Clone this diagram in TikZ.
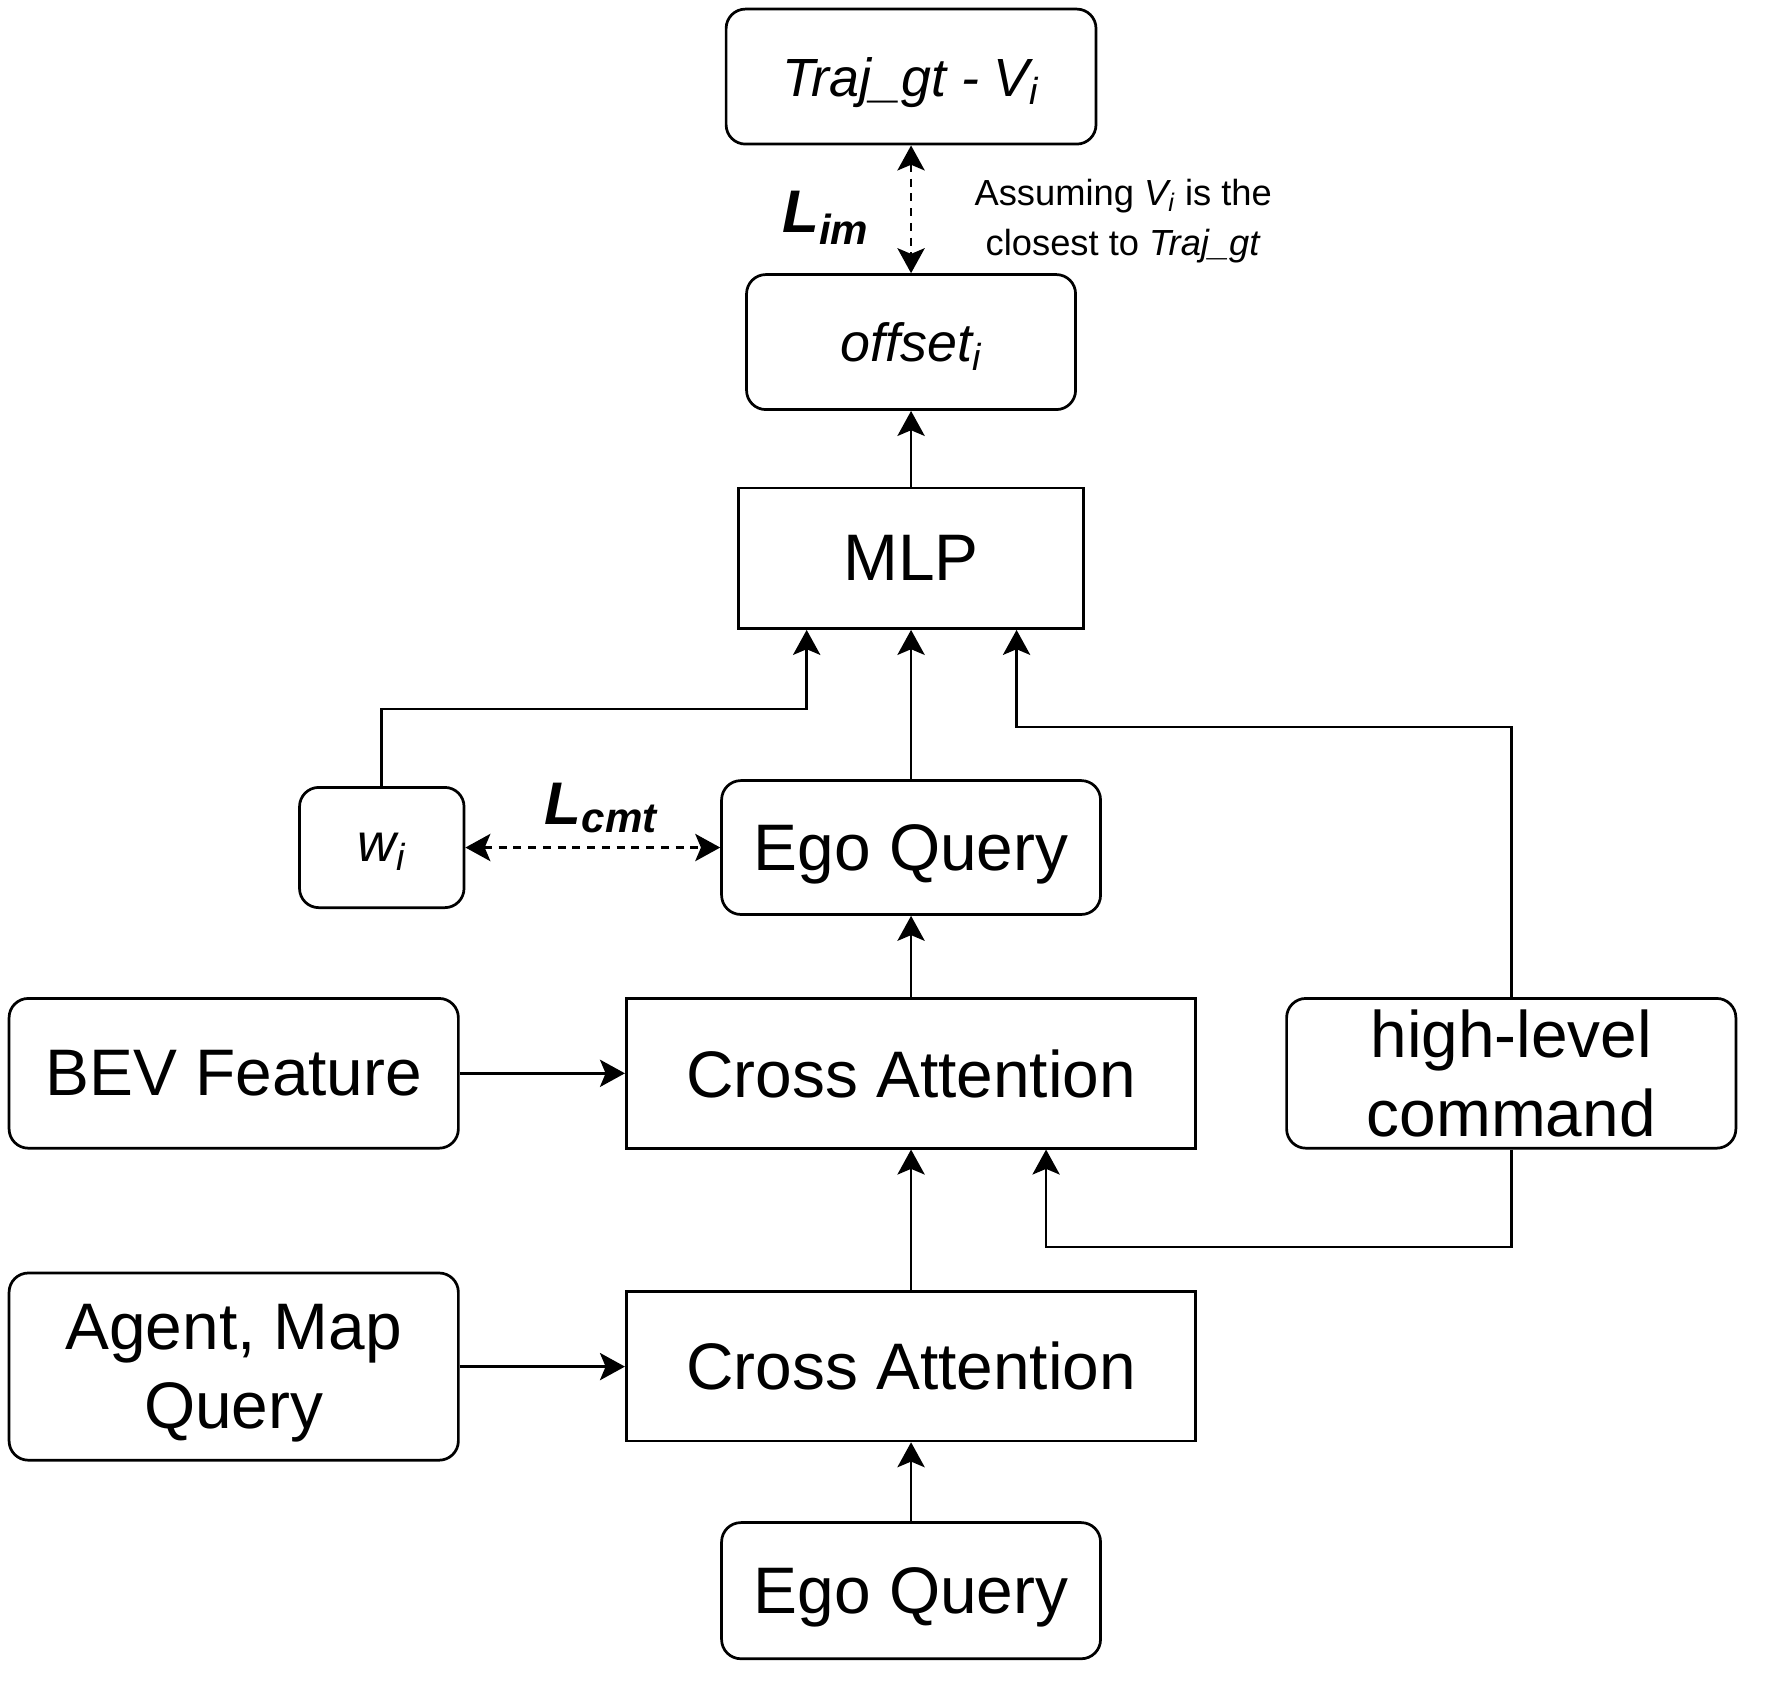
\documentclass[tikz,border=0pt]{standalone}
\usepackage{fontspec}
\setmainfont{Liberation Sans}
\usetikzlibrary{arrows.meta,calc}
\tikzset{
  base/.style={draw, line width=1.2pt, inner sep=0pt, align=center, text=black, text depth=0pt},
  rbox/.style={base, rounded corners=8.5pt},
  sbox/.style={base},
  big/.style={font=\fontsize{29}{35}\selectfont},
  med/.style={font=\fontsize{23.7}{28}\selectfont},
  lossfont/.style={font=\fontsize{26.5}{30}\selectfont},
  tip/.style={},
  arr/.style={line width=1.2pt, -{Stealth[length=11pt,width=12pt,inset=2.5pt]}},
  darr/.style={line width=1.2pt, dash pattern=on 3.5pt off 3pt, {Stealth[length=11pt,width=12pt,inset=2.5pt]}-{Stealth[length=11pt,width=12pt,inset=2.5pt]}},
}
\begin{document}
\begin{tikzpicture}[x=0.5pt,y=-0.5pt]
\useasboundingbox (0,0) rectangle (1568,1499);
\fill[white] (0,0) rectangle (1568,1499);

\node[rbox,med,minimum width=163pt,minimum height=59.5pt] (traj) at (803,67.5) {\itshape Traj\_gt - V\textsubscript{i}};
\node[rbox,med,minimum width=145pt,minimum height=59.5pt] (off) at (803,301.5) {\itshape offset\textsubscript{i}};
\node[sbox,big,minimum width=152pt,minimum height=62pt] (mlp) at (803,492) {MLP};
\node[rbox,med,minimum width=72.5pt,minimum height=53pt] (wi) at (336.5,747) {\itshape w\textsubscript{i}};
\node[rbox,big,minimum width=167pt,minimum height=59pt] (egoA) at (803,747) {Ego Query};
\node[rbox,big,minimum width=198pt,minimum height=66pt] (bev) at (206,946) {BEV Feature};
\node[sbox,big,minimum width=251pt,minimum height=66pt] (ca1) at (803,946) {Cross Attention};
\node[rbox,big,minimum width=198pt,minimum height=66pt] (hlc) at (1332,946) {high-level\\command};
\node[rbox,big,minimum width=198pt,minimum height=82.5pt] (amq) at (206,1204.5) {Agent, Map\\Query};
\node[sbox,big,minimum width=251pt,minimum height=66pt] (ca2) at (803,1204) {Cross Attention};
\node[rbox,big,minimum width=167pt,minimum height=60pt] (egoB) at (803,1402) {Ego Query};

\node[lossfont] (lim) at (728,192) {\bfseries\itshape L\textsubscript{im}};
\node[lossfont] (lcmt) at (530,712) {\bfseries\itshape L\textsubscript{cmt}};
\node[font=\fontsize{16}{22}\selectfont,align=center] (note) at (990,195) {Assuming \textit{V\textsubscript{i}} is the\\closest to \textit{Traj\_gt}};

\draw[darr] (traj.south) -- (off.north);
\draw[arr] (mlp.north) -- (off.south);
\draw[arr] (wi.north) -- ++(0,-68) -| ([xshift=-46pt]mlp.south);
\draw[arr] (egoA.north) -- (mlp.south);
\draw[arr] (hlc.north) -- ++(0,-238) -| ([xshift=46.5pt]mlp.south);
\draw[darr] (wi.east) -- (egoA.west);
\draw[arr] (ca1.north) -- (egoA.south);
\draw[arr] (bev.east) -- (ca1.west);
\draw[arr] (hlc.south) -- ++(0,86) -| ([xshift=59.5pt]ca1.south);
\draw[arr] (ca2.north) -- (ca1.south);
\draw[arr] (amq.east) -- (amq.east -| ca2.west);
\draw[arr] (egoB.north) -- (ca2.south);
\end{tikzpicture}
\end{document}
